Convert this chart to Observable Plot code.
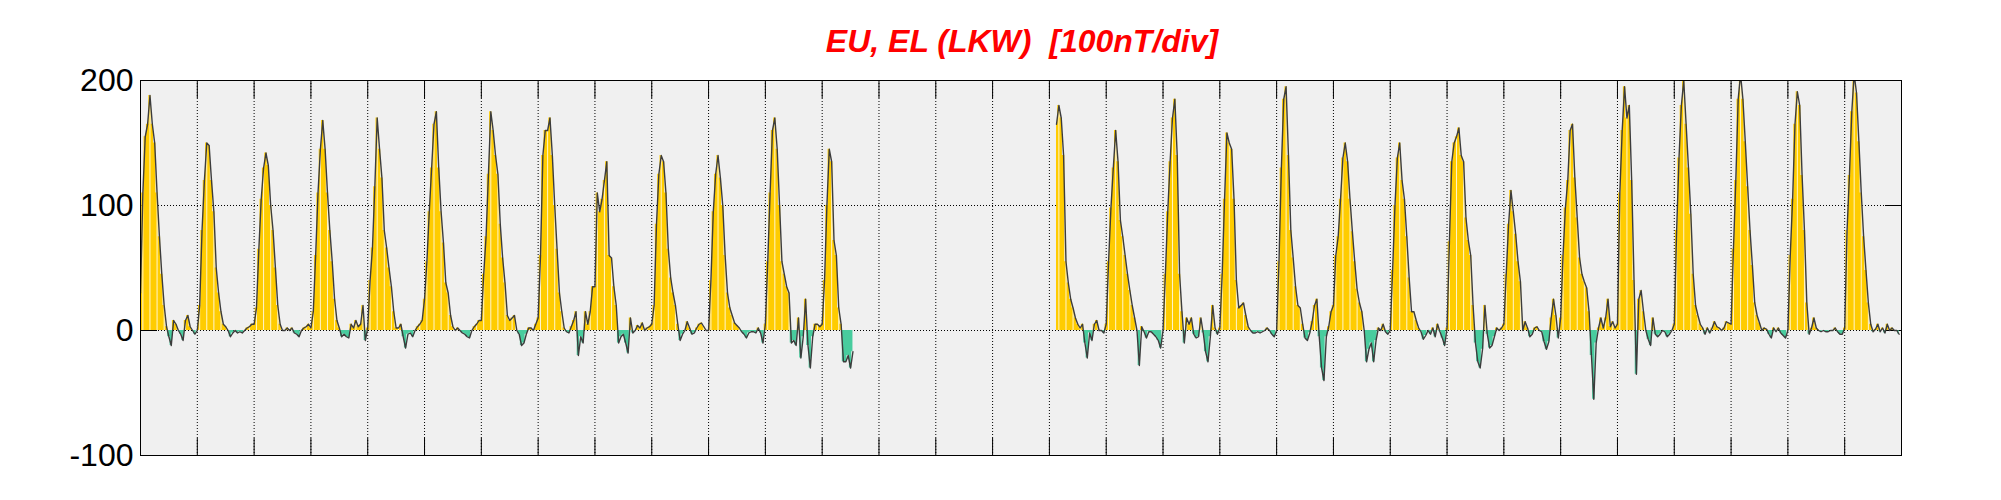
<!DOCTYPE html>
<html>
<head>
<meta charset="utf-8">
<script src="https://cdn.jsdelivr.net/npm/d3@7"></script>
<script src="https://cdn.jsdelivr.net/npm/@observablehq/plot@0.6"></script>
<style>
  body { margin: 0; background: #fff; font-family: "Liberation Sans", Arial, sans-serif; }
  #title { position: relative; height: 60px; width: 2001px; }
  #title span { position: absolute; left: 1022px; top: 25px; transform: translateX(-50%);
    font: italic bold 32px/32px "Liberation Sans", Arial, sans-serif; color: #ff0000; white-space: pre; }
  #chart svg { display: block; }
</style>
</head>
<body>
<div id="title"><span>EU, EL (LKW)  [100nT/div]</span></div>
<div id="chart"></div>
<script>
// Hourly values (nT), one array per UT day of the month; null = no data
const d00 = [30,110,155,165,188,165,150,110,75,45,20,3,-5,-12,8,5,0,-3,-8,8,12,3,0,-3];
const d01 = [0,20,80,120,150,148,120,95,50,30,15,5,3,0,-5,-2,0,-2,-1,-2,0,2,3,5];
const d02 = [5,18,65,105,130,142,132,100,80,50,20,5,0,0,2,0,2,-2,-3,-5,0,2,3,5];
const d03 = [2,15,60,110,145,168,145,110,80,55,25,8,2,-5,-3,-5,-6,5,2,8,3,5,20,-8];
const d04 = [2,40,66,115,170,145,122,80,66,50,35,15,2,2,5,-5,-14,-3,-2,-5,0,3,5,8];
const d05 = [25,55,95,130,165,175,130,95,70,38,30,12,3,0,2,0,-2,-3,-5,-6,0,3,5,8];
const d06 = [8,45,75,125,175,160,140,125,85,58,38,12,8,10,12,0,-3,-12,-10,-3,2,2,0,5];
const d07 = [10,60,140,160,160,170,140,100,65,30,15,2,-1,-2,3,8,15,-20,-5,-10,15,5,15,35];
const d08 = [35,110,95,105,120,135,60,58,35,20,-10,-5,-3,-10,-18,10,-2,0,4,2,6,0,2,3];
const d09 = [5,20,85,125,140,135,110,65,42,30,20,5,-8,-3,0,7,2,-3,-2,2,5,6,3,0];
const d10 = [0,40,95,125,140,122,100,60,30,18,12,6,4,2,-1,-3,-6,-2,-1,-1,-2,2,-2,-10];
const d11 = [5,55,110,160,170,145,100,55,45,35,30,-10,-8,-12,10,-22,-5,25,-12,-30,-5,5,5,3];
const d12 = [5,40,100,145,135,72,60,18,5,-25,-25,-20,-30,-17,null,null,null,null,null,null,null,null,null,null];
const d13 = new Array(24).fill(null);
const d14 = new Array(24).fill(null);
const d15 = new Array(24).fill(null);
const d16 = [null,null,null,165,180,170,140,55,38,25,18,10,5,2,5,-10,-22,-2,-8,5,8,0,0,-2];
const d17 = [5,55,98,130,160,135,88,75,60,45,32,20,10,0,-28,3,-1,-6,-1,-1,-3,-5,-8,-14];
const d18 = [0,45,95,135,170,185,140,45,15,-10,10,5,10,-3,-6,-5,10,-2,-17,-25,-5,20,2,-3];
const d19 = [2,45,105,158,150,145,105,40,18,20,22,12,3,0,-2,-2,-1,-2,-1,0,2,0,-3,-5];
const d20 = [0,55,130,185,195,140,80,58,35,20,18,5,-6,-8,-2,7,20,25,-5,-30,-40,-5,3,15];
const d21 = [20,60,75,105,138,150,135,105,79,55,33,22,15,0,-25,-15,-10,-25,-8,2,0,5,-1,-3];
const d22 = [0,48,100,138,150,120,105,75,42,15,15,8,2,-1,-7,-4,0,-3,2,-5,5,-1,-6,-12];
const d23 = [2,71,135,150,155,162,140,135,90,72,60,20,-10,-25,-30,-15,20,-3,-14,-12,-5,2,0,2];
const d24 = [5,45,85,112,95,77,55,39,0,7,2,-5,-3,2,3,0,-1,-9,-15,-9,10,25,12,-6];
const d25 = [10,60,98,120,160,165,122,90,58,45,39,34,15,-20,-55,-10,2,10,2,10,25,3,7,2];
const d26 = [5,110,160,195,170,180,120,40,-35,25,32,15,0,-7,-12,10,-3,-5,-3,0,-1,-5,-3,0];
const d27 = [5,80,138,180,200,165,130,93,45,20,12,5,2,-3,2,-2,2,7,3,2,0,2,7,6];
const d28 = [5,65,120,185,205,185,151,115,80,52,22,12,6,0,2,1,-3,-6,2,-1,2,-2,-4,-6];
const d29 = [0,60,105,165,191,180,124,80,22,-3,2,10,2,0,-1,0,-1,-1,0,0,2,-1,-3,-3];
const d30 = [2,80,124,175,205,190,151,110,75,48,22,5,-1,1,5,-1,2,-2,5,0,2,0,0,-3];

const dayTicks = d3.range(1, 31);      // day boundaries
const yTicks = [-100, 0, 100, 200];     // y tick labels
const yInner = [0, 100];

const days = [d00,d01,d02,d03,d04,d05,d06,d07,d08,d09,d10,d11,d12,d13,d14,d15,
              d16,d17,d18,d19,d20,d21,d22,d23,d24,d25,d26,d27,d28,d29,d30];
const rows = days.flatMap((arr, d) => arr.map((v, h) => ({t: d + h / 24, h, v})));
const val = v => (v == null ? NaN : v);
const stripes = rows.filter(r => r.h % 3 === 1 && r.v != null && r.v > 0);

const dotted = {stroke: "#000", strokeOpacity: 1, strokeDasharray: "1,2", strokeWidth: 1};

const chart = Plot.plot({
  width: 2001,
  height: 440,
  marginTop: 20,
  marginBottom: 45,
  marginLeft: 140,
  marginRight: 100,
  x: {domain: [0, 31]},
  y: {domain: [-100, 200]},
  style: {background: "transparent", fontFamily: "'Liberation Sans', Arial, sans-serif", color: "#000"},
  marks: [
    Plot.frame({fill: "#f0f0f0", stroke: null}),
    Plot.gridX(dayTicks, dotted),
    Plot.gridY(yInner, dotted),
    Plot.axisX(dayTicks, {anchor: "bottom", tickSize: -17, fill: "none", label: null}),
    Plot.axisX(dayTicks, {anchor: "top", tickSize: -17, fill: "none", label: null}),
    Plot.axisY(yInner, {anchor: "left", tickSize: -17, fill: "none", label: null}),
    Plot.axisY(yInner, {anchor: "right", tickSize: -17, fill: "none", label: null}),
    Plot.areaY(rows, {x: "t", y1: 0, y2: d => Math.max(val(d.v), 0), curve: "step", fill: "#ffcc00", clip: true}),
    Plot.areaY(rows, {x: "t", y1: 0, y2: d => Math.min(val(d.v), 0), curve: "step", fill: "#48cc9e", clip: true}),
    Plot.ruleX(stripes, {x: "t", y1: 0, y2: d => Math.min(d.v, 200), stroke: "#fff", strokeOpacity: 0.8, strokeWidth: 1, clip: true}),
    Plot.line(rows, {x: "t", y: d => val(d.v), stroke: "#3c3c3c", strokeWidth: 1.4, clip: true}),
    Plot.axisY(yTicks, {anchor: "left", tickSize: 0, tickPadding: 7, fontSize: 32, tickFormat: d => String(d), label: null}),
    Plot.frame({stroke: "#000", strokeWidth: 1})
  ]
});
document.getElementById("chart").appendChild(chart);
</script>
</body>
</html>
